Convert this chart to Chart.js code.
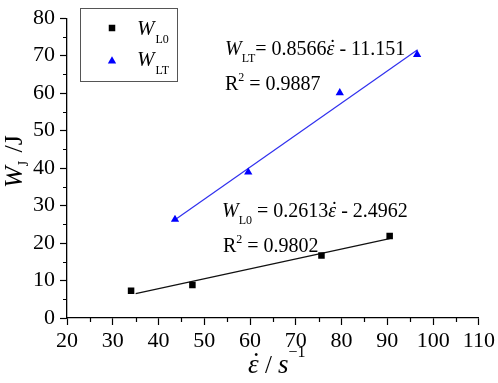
<!DOCTYPE html>
<html>
<head>
<meta charset="utf-8">
<script src="https://cdn.jsdelivr.net/npm/chart.js@4.4.1/dist/chart.umd.min.js"></script>
<style>
  html, body { margin: 0; padding: 0; background: #fff; }
  canvas { display: block; }
</style>
</head>
<body>
<canvas id="chart" width="498" height="383"></canvas>
<script>
// measured points (strain rate vs. energy)
const strainRateL0 = [34.0, 47.4, 75.6, 90.5];
const energyL0 = [7.3, 8.8, 16.7, 21.9];
const strainRateLT = [43.6, 59.6, 79.6, 96.5];
const energyLT = [26.3, 38.9, 60.1, 70.3];

// fitted lines, end points
const fitL0X = [35.0, 90.5];
const fitL0Y = [6.5, 21.2];
const fitLTX = [43.6, 96.6];
const fitLTY = [26.2, 71.6];

const xTicks = [20, 30, 40, 50, 60, 70, 80, 90, 100, 110];
const yTicks = [0, 10, 20, 30, 40, 50, 60, 70, 80];

const serif = '"Liberation Serif", "Times New Roman", serif';

const toXY = (xs, ys) => xs.map((x, i) => ({ x: x, y: ys[i] }));

// draw a run of text pieces one after the other
function rich(ctx, x, y, parts) {
  parts.forEach(p => {
    ctx.font = p.font;
    ctx.textAlign = 'left';
    ctx.fillText(p.t, x, y + (p.dy || 0));
    const w = ctx.measureText(p.t).width;
    if (p.dot) {
      // dot accent over epsilon (strain rate)
      ctx.textAlign = 'center';
      ctx.fillText('˙', x + w * 0.62, y + (p.dy || 0) + (p.dotDy || 0));
      ctx.textAlign = 'left';
    }
    x += w + (p.gap || 0);
  });
}

const extras = {
  id: 'extras',
  afterDraw(chart) {
    const ctx = chart.ctx;
    const xs = chart.scales.x, ys = chart.scales.y;
    ctx.save();
    ctx.strokeStyle = '#000';
    ctx.lineWidth = 1.2;
    // minor ticks
    ctx.beginPath();
    for (let i = 0; i < xTicks.length - 1; i++) {
      const px = Math.round(xs.getPixelForValue((xTicks[i] + xTicks[i + 1]) / 2)) + 0.5;
      ctx.moveTo(px, ys.bottom);
      ctx.lineTo(px, ys.bottom + 4);
    }
    for (let i = 0; i < yTicks.length - 1; i++) {
      const py = Math.round(ys.getPixelForValue((yTicks[i] + yTicks[i + 1]) / 2)) + 0.5;
      ctx.moveTo(xs.left, py);
      ctx.lineTo(xs.left - 4, py);
    }
    ctx.stroke();

    ctx.fillStyle = '#000';
    ctx.textBaseline = 'alphabetic';

    // legend box
    ctx.strokeStyle = '#555';
    ctx.lineWidth = 1;
    ctx.strokeRect(80.5, 8.5, 97, 73);
    Chart.helpers.drawPoint(ctx, { pointStyle: 'rect', radius: 4.6, borderWidth: 0 }, 112, 28);
    ctx.fillStyle = '#00f';
    Chart.helpers.drawPoint(ctx, { pointStyle: 'triangle', radius: 4.8, borderWidth: 0 }, 112, 61);
    ctx.fillStyle = '#000';
    rich(ctx, 137, 35, [
      { t: 'W', font: 'italic 21px ' + serif, gap: 1 },
      { t: 'L0', font: '12px ' + serif, dy: 8 }
    ]);
    rich(ctx, 137, 66, [
      { t: 'W', font: 'italic 21px ' + serif, gap: 1 },
      { t: 'LT', font: '12px ' + serif, dy: 8 }
    ]);

    // fit equations
    rich(ctx, 225, 55, [
      { t: 'W', font: 'italic 20px ' + serif },
      { t: 'LT', font: '12px ' + serif, dy: 7 },
      { t: '= 0.8566', font: '20px ' + serif },
      { t: 'ε', font: 'italic 20px ' + serif, dot: true, dotDy: -1 },
      { t: ' - 11.151', font: '20px ' + serif }
    ]);
    rich(ctx, 225, 90, [
      { t: 'R', font: '20px ' + serif },
      { t: '2', font: '12px ' + serif, dy: -9 },
      { t: ' = 0.9887', font: '20px ' + serif }
    ]);
    rich(ctx, 222, 217, [
      { t: 'W', font: 'italic 20px ' + serif },
      { t: 'L0', font: '12px ' + serif, dy: 7 },
      { t: ' = 0.2613', font: '20px ' + serif },
      { t: 'ε', font: 'italic 20px ' + serif, dot: true, dotDy: -1 },
      { t: ' - 2.4962', font: '20px ' + serif }
    ]);
    rich(ctx, 223, 252, [
      { t: 'R', font: '20px ' + serif },
      { t: '2', font: '12px ' + serif, dy: -9 },
      { t: ' = 0.9802', font: '20px ' + serif }
    ]);

    // x axis title
    rich(ctx, 248, 373, [
      { t: 'ε', font: 'italic 27px ' + serif, dot: true, dotDy: -2 },
      { t: ' / ', font: '25px ' + serif },
      { t: 's', font: 'italic 27px ' + serif },
      { t: '−1', font: '16px ' + serif, dy: -16 }
    ]);

    // y axis title
    ctx.translate(22, 188);
    ctx.rotate(-Math.PI / 2);
    rich(ctx, 0, 0, [
      { t: 'W', font: 'italic 26px ' + serif },
      { t: 'J', font: '14px ' + serif, dy: 6, gap: 2 },
      { t: ' /J', font: '26px ' + serif }
    ]);
    ctx.restore();
  }
};

new Chart(document.getElementById('chart'), {
  type: 'scatter',
  data: {
    datasets: [
      {
        label: 'W_L0',
        data: toXY(strainRateL0, energyL0),
        pointStyle: 'rect',
        pointRadius: 4.6,
        backgroundColor: '#000',
        borderWidth: 0
      },
      {
        label: 'W_LT',
        data: toXY(strainRateLT, energyLT),
        pointStyle: 'triangle',
        pointRadius: 4.8,
        backgroundColor: '#0000ff',
        borderWidth: 0
      },
      {
        label: 'fit L0',
        data: toXY(fitL0X, fitL0Y),
        showLine: true,
        pointRadius: 0,
        borderColor: '#111',
        borderWidth: 1.2
      },
      {
        label: 'fit LT',
        data: toXY(fitLTX, fitLTY),
        showLine: true,
        pointRadius: 0,
        borderColor: '#3030ee',
        borderWidth: 1.2
      }
    ]
  },
  options: {
    responsive: false,
    animation: false,
    devicePixelRatio: 1,
    layout: { padding: { top: 11, right: 19, left: 0, bottom: 0 } },
    plugins: { legend: { display: false }, tooltip: { enabled: false } },
    scales: {
      x: {
        min: 20, max: 110,
        afterFit: s => { s.height = 65; },
        afterBuildTicks: s => { s.ticks = xTicks.map(v => ({ value: v })); },
        border: { color: '#000', width: 1.3 },
        grid: { drawOnChartArea: false, tickLength: 7, tickColor: '#000', tickWidth: 1.2 },
        ticks: { color: '#000', padding: 3, maxRotation: 0, autoSkip: false, font: { family: serif, size: 22 } }
      },
      y: {
        min: 0, max: 80,
        afterFit: s => { s.width = 67; },
        afterBuildTicks: s => { s.ticks = yTicks.map(v => ({ value: v })); },
        border: { color: '#000', width: 1.3 },
        grid: { drawOnChartArea: false, tickLength: 7, tickColor: '#000', tickWidth: 1.2 },
        ticks: { color: '#000', padding: 5, autoSkip: false, font: { family: serif, size: 22 } }
      }
    }
  },
  plugins: [extras]
});
</script>
</body>
</html>
